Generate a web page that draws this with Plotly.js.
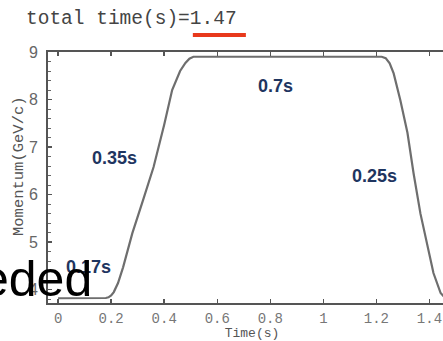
<!DOCTYPE html>
<html>
<head>
<meta charset="utf-8">
<script src="https://cdn.plot.ly/plotly-3.0.1.min.js"></script>
<style>
html,body{margin:0;padding:0;overflow:hidden;background:#fff;width:443px;height:341px;}
#chart{width:470px;height:341px;}
</style>
</head>
<body>
<div id="chart"></div>
<script>
// Momentum cycle
const timeS = [0, 0.17, 0.18, 0.19, 0.2, 0.21, 0.226, 0.245, 0.28, 0.32, 0.36, 0.4, 0.43, 0.46, 0.48, 0.495, 0.51, 0.52,
               1.22, 1.235, 1.25, 1.265, 1.29, 1.317, 1.34, 1.366, 1.392, 1.415, 1.442, 1.455, 1.47];
const momentum = [3.82, 3.82, 3.825, 3.84, 3.88, 3.95, 4.14, 4.47, 5.19, 5.88, 6.58, 7.47, 8.2, 8.6, 8.77, 8.86, 8.9, 8.9,
                  8.9, 8.87, 8.76, 8.55, 7.99, 7.3, 6.45, 5.6, 4.9, 4.35, 3.93, 3.85, 3.82];

const xTicks = [0, 0.2, 0.4, 0.6, 0.8, 1, 1.2, 1.4];
const xTickLabels = ["0", "0.2", "0.4", "0.6", "0.8", "1", "1.2", "1.4"];
const yTicks = [4, 5, 6, 7, 8, 9];

const segLabels = ["0.17s", "0.35s", "0.7s", "0.25s"];
const segLabelT = [0.113, 0.211, 0.819, 1.192];
const segLabelP = [4.47, 6.77, 8.28, 6.39];

const titleText = "total time(s)=1.47";
const yTitleText = "Momentum(GeV/c)";
const overlayText = "eded";

const annotations = segLabels.map((s, i) => ({
  text: s, x: segLabelT[i], y: segLabelP[i], xref: 'x', yref: 'y',
  showarrow: false, xanchor: 'center', yanchor: 'middle',
  font: {family: 'Liberation Sans, Arial, sans-serif', size: 18, color: '#1f3560', weight: 'bold'}
}));
annotations.push({
  text: titleText, xref: 'paper', yref: 'paper', x: -0.058, y: 1.131,
  xanchor: 'left', yanchor: 'middle', showarrow: false,
  font: {family: 'Liberation Mono, Courier New, monospace', size: 19.5, color: '#444'}
});
annotations.push({
  text: yTitleText, xref: 'paper', yref: 'paper', x: -0.071, y: 0.546,
  xanchor: 'center', yanchor: 'middle', textangle: -90, showarrow: false,
  font: {family: 'Liberation Mono, Courier New, monospace', size: 15.5, color: '#555'}
});
annotations.push({
  text: overlayText, xref: 'paper', yref: 'paper', x: 0.112, y: 0.095,
  xanchor: 'right', yanchor: 'middle', showarrow: false,
  font: {family: 'Liberation Sans, Arial, sans-serif', size: 50, color: '#000'}
});

const trace = {
  x: timeS, y: momentum, type: 'scatter', mode: 'lines',
  line: {color: '#6e6e6e', width: 2.2}, hoverinfo: 'skip'
};

const layout = {
  width: 470, height: 341,
  margin: {l: 48, r: 14, t: 52, b: 38},
  paper_bgcolor: '#fff', plot_bgcolor: '#fff',
  showlegend: false,
  xaxis: {
    range: [-0.038, 1.5], tickvals: xTicks, ticktext: xTickLabels,
    ticks: 'inside', ticklen: 4, tickwidth: 1.5, tickcolor: '#555',
    showline: true, linecolor: '#555', linewidth: 2, mirror: 'ticks',
    showgrid: false, zeroline: false, ticklabelstandoff: 1,
    tickfont: {family: 'Liberation Mono, Courier New, monospace', size: 14, color: '#777'},
    title: {text: 'Time(s)', standoff: 0, font: {family: 'Liberation Mono, Courier New, monospace', size: 13, color: '#555'}}
  },
  yaxis: {
    range: [3.72, 9], tickvals: yTicks,
    ticks: 'inside', ticklen: 4, tickwidth: 1.5, tickcolor: '#555',
    minor: {dtick: 0.2, ticks: 'inside', ticklen: 3, tickcolor: '#666', tickwidth: 1},
    showline: true, linecolor: '#555', linewidth: 2, mirror: 'ticks',
    showgrid: false, zeroline: false, ticklabelstandoff: 5,
    tickfont: {family: 'Liberation Sans, Arial, sans-serif', size: 16, color: '#666'}
  },
  shapes: [{
    type: 'line', xref: 'paper', yref: 'paper',
    x0: 0.355, x1: 0.485, y0: 1.068, y1: 1.068,
    line: {color: '#e8391c', width: 4}
  }],
  annotations: annotations
};

Plotly.newPlot('chart', [trace], layout, {displayModeBar: false, staticPlot: true});
</script>
</body>
</html>
